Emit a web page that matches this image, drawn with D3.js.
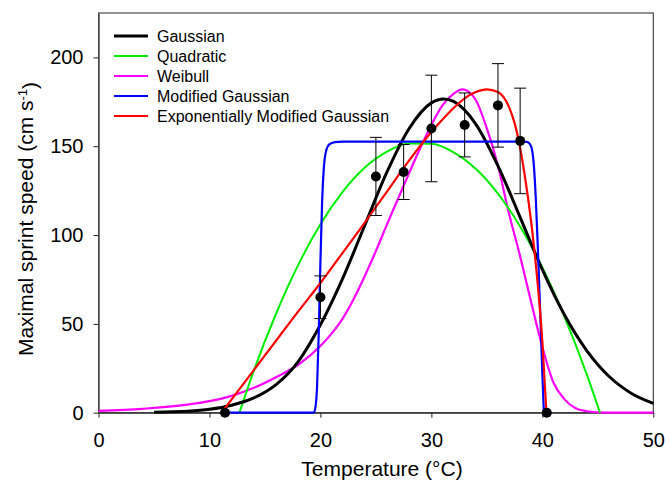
<!DOCTYPE html>
<html>
<head>
<meta charset="utf-8">
<script src="https://cdn.jsdelivr.net/npm/d3@7"></script>
<style>
    body { margin: 0; background: #fff; }
    text { font-family: "Liberation Sans", Arial, sans-serif; fill: #000; }
</style>
</head>
<body>
<div id="vis"></div>
<script>
// observed means (+- error) of sprint speed
const obsTemp  = [11.4, 20, 25, 27.5, 30, 33, 36, 38, 40.4];
const obsSpeed = [0, 65, 133, 135.5, 160, 162, 173, 153, 0];
const obsErr   = [0, 12, 22, 15.5, 30, 18, 23.5, 29.7, 0];

// fitted curves
const gaussTemp  = [5, 8, 10, 12, 14, 16, 18, 20, 22, 24, 26, 28, 30, 31.1, 32, 34, 36, 38, 40, 42, 44, 46, 48, 50];
const gaussSpeed = [0.2, 0.8, 1.9, 4.2, 8.3, 15.8, 28.8, 49.5, 75.5, 105.5, 135.5, 160, 174.4, 176.6, 175.2, 162.5, 139, 110, 80.5, 55, 35, 20.5, 11, 5.3];

const quadTemp  = [12.7, 14, 16, 18, 20, 22, 24, 26, 28, 30, 32, 34, 36, 38, 40, 42, 44, 45.2];
const quadSpeed = [0, 23.7, 55.7, 83.2, 106.1, 124.3, 138, 147, 151.5, 151.4, 146.6, 137.3, 123.3, 104.8, 81.7, 53.9, 21.6, 0];

const weibTemp  = [0, 4, 8, 10, 12, 14, 16, 18, 20, 21, 22, 23, 24, 25, 26, 27, 28, 29, 30, 31, 32, 32.8, 33.5, 34, 35, 36, 37, 38, 39, 40, 41, 42, 43, 44, 45, 46, 50];
const weibSpeed = [1, 2.2, 4.5, 6.5, 9.5, 14, 20, 27, 37.5, 44.5, 53, 64, 77, 91, 106, 120.5, 135, 149, 162, 173, 179.5, 182, 180, 176, 160, 139, 112, 88, 62, 37, 17, 7.5, 2.5, 0.8, 0.2, 0, 0];

const modTemp  = [11.4, 19.4, 19.55, 19.7, 19.85, 20, 20.15, 20.3, 20.5, 20.8, 21.3, 22, 38, 38.6, 38.9, 39.1, 39.25, 39.4, 39.6, 39.8, 40, 40.14];
const modSpeed = [0, 0, 3, 15, 45, 85, 118, 137, 147, 151, 152.3, 152.6, 152.6, 152.5, 151, 147, 138, 122, 92, 58, 22, 0];

const expTemp  = [11.1, 12, 14, 16, 18, 20, 22, 24, 26, 28, 30, 31, 32, 33, 34, 35, 36, 37, 37.5, 38, 38.5, 39, 39.5, 40, 40.37];
const expSpeed = [0, 7.5, 24, 40.5, 57, 73, 90, 107, 124.5, 142, 158, 165, 171.5, 177, 180.5, 182, 180.5, 172, 163, 149, 130, 107, 78, 40, 0];

const seriesNames  = ["Gaussian", "Quadratic", "Weibull", "Modified Gaussian", "Exponentially Modified Gaussian"];
const seriesColors = ["#000000", "#00ee00", "#ff00ff", "#0000ff", "#ff0000"];

const xTicks = [0, 10, 20, 30, 40, 50];
const yTicks = [0, 50, 100, 150, 200];

const W = 665, H = 481;
const margin = { top: 13, left: 98.5, right: 11.7, bottom: 68.3 };

const svg = d3.select("#vis").append("svg").attr("width", W).attr("height", H);
const plotW = W - margin.left - margin.right;
const plotH = H - margin.top - margin.bottom;
const g = svg.append("g").attr("transform", `translate(${margin.left},${margin.top})`);

const x = d3.scaleLinear().domain([0, 50]).range([0, plotW]);
const y = d3.scaleLinear().domain([0, 225]).range([plotH, 0]);

// frame
g.append("rect").attr("width", plotW).attr("height", plotH)
    .attr("fill", "none").attr("stroke", "#222").attr("stroke-width", 1);

// axes
const xAxis = d3.axisBottom(x).tickValues(xTicks).tickSize(5).tickPadding(15).tickSizeOuter(0);
const yAxis = d3.axisLeft(y).tickValues(yTicks).tickSize(5).tickPadding(10).tickSizeOuter(0);
const gx = g.append("g").attr("transform", `translate(0,${plotH})`).call(xAxis);
const gy = g.append("g").call(yAxis);
[gx, gy].forEach(a => {
    a.selectAll("text").style("font-size", "20px").attr("fill", "#000");
    a.selectAll("line").attr("stroke", "#222");
    a.select(".domain").attr("stroke", "#222");
});
gy.select(".domain").attr("stroke", "#555").attr("stroke-width", 1.6);

// curves
const line = d3.line().x(d => x(d[0])).y(d => y(d[1])).curve(d3.curveMonotoneX);
const curves = [
    { t: weibTemp, s: weibSpeed, c: seriesColors[2], w: 2.2 },
    { t: quadTemp, s: quadSpeed, c: seriesColors[1], w: 2 },
    { t: gaussTemp, s: gaussSpeed, c: seriesColors[0], w: 3 },
    { t: modTemp, s: modSpeed, c: seriesColors[3], w: 2.2 },
    { t: expTemp, s: expSpeed, c: seriesColors[4], w: 2.2 }
];
curves.forEach(cv => {
    g.append("path")
        .datum(cv.t.map((t, i) => [t, cv.s[i]]))
        .attr("d", line)
        .attr("fill", "none")
        .attr("stroke", cv.c)
        .attr("stroke-width", cv.w)
        .attr("stroke-linejoin", "round");
});

// error bars + points
const obs = obsTemp.map((t, i) => ({ t: t, s: obsSpeed[i], e: obsErr[i] }));
const eb = g.selectAll(".err").data(obs.filter(d => d.e > 0)).join("g").attr("class", "err")
    .attr("stroke", "#000").attr("stroke-width", 1);
eb.append("line").attr("x1", d => x(d.t)).attr("x2", d => x(d.t))
    .attr("y1", d => y(d.s - d.e)).attr("y2", d => y(d.s + d.e));
eb.append("line").attr("x1", d => x(d.t) - 6).attr("x2", d => x(d.t) + 6)
    .attr("y1", d => y(d.s + d.e)).attr("y2", d => y(d.s + d.e));
eb.append("line").attr("x1", d => x(d.t) - 6).attr("x2", d => x(d.t) + 6)
    .attr("y1", d => y(d.s - d.e)).attr("y2", d => y(d.s - d.e));

g.selectAll(".pt").data(obs).join("circle").attr("class", "pt")
    .attr("cx", d => x(d.t)).attr("cy", d => y(d.s)).attr("r", 5).attr("fill", "#000");

// legend
const legend = svg.append("g").attr("transform", "translate(114,36)");
seriesNames.forEach((name, i) => {
    const row = legend.append("g").attr("transform", `translate(0,${i * 20})`);
    row.append("line").attr("x1", 0).attr("x2", 34).attr("y1", 0).attr("y2", 0)
        .attr("stroke", seriesColors[i]).attr("stroke-width", i === 0 ? 3 : 2);
    row.append("text").attr("x", 43).attr("y", 0).attr("dy", "0.35em")
        .style("font-size", "16px").text(name);
});

// axis titles
svg.append("text").attr("x", 382).attr("y", 476).attr("text-anchor", "middle")
    .style("font-size", "21px").text("Temperature (\u00B0C)");

const yt = svg.append("text").attr("transform", "translate(33,219) rotate(-90)")
    .attr("text-anchor", "middle").style("font-size", "21px");
yt.append("tspan").text("Maximal sprint speed (cm s");
yt.append("tspan").attr("dy", "-0.45em").style("font-size", "13px").text("-1");
yt.append("tspan").attr("dy", "0.45em").text(")");
</script>
</body>
</html>
